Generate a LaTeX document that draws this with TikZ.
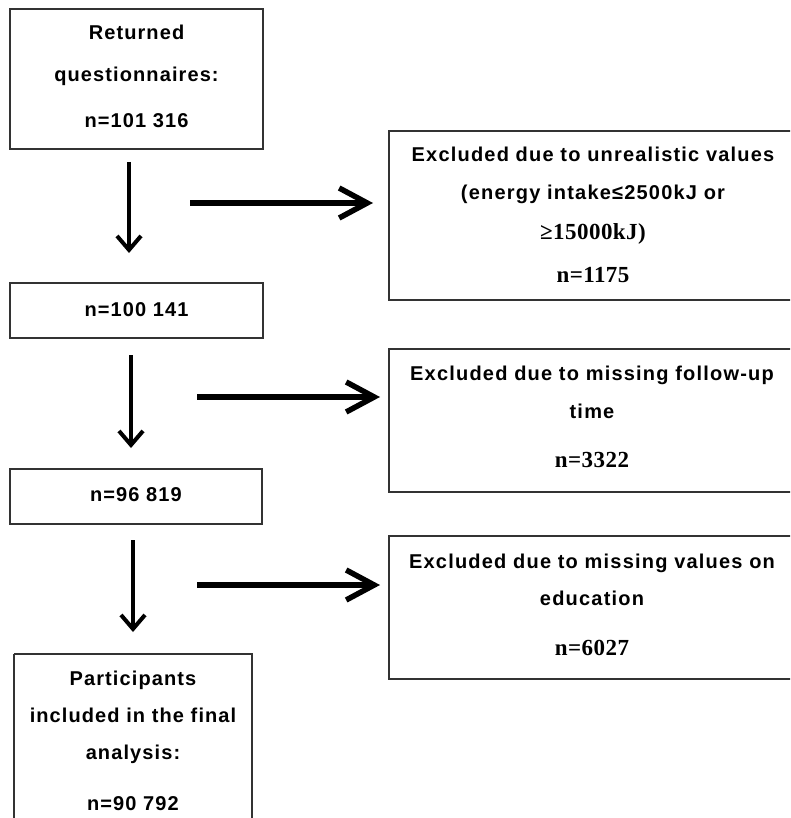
\documentclass[tikz,border=0pt]{standalone}
\usepackage{fontspec}
\usetikzlibrary{arrows.meta}
\newfontfamily\lsans{Liberation Sans}[LetterSpace=5.5]
\newfontfamily\rsans{Liberation Sans}[LetterSpace=6.0]
\newfontfamily\rserif{Liberation Serif}[LetterSpace=2.0]
\tikzset{
  box/.style={draw=black!80, line width=1.4pt},
  ltxt/.style={anchor=base, inner sep=0pt, font=\lsans\bfseries\fontsize{20}{20}\selectfont},
  rtxt/.style={anchor=base, inner sep=0pt, font=\rsans\bfseries\fontsize{20}{20}\selectfont},
  stxt/.style={anchor=base, inner sep=0pt, font=\rserif\bfseries\fontsize{23}{23}\selectfont},
  varrow/.style={line width=3.5pt, -{Straight Barb[length=14pt,width=24pt,line width=4pt]}},
  harrow/.style={line width=5.5pt, -{Straight Barb[length=28pt,width=30pt,line width=5.5pt]}},
}
\begin{document}
\begin{tikzpicture}[x=1pt,y=-1pt]
\clip (0,0) rectangle (790,818);
\fill[white] (0,0) rectangle (790,818);
% boxes
\draw[box] (10,9) rectangle (263,149);
\draw[box] (389,131) rectangle (800,300);
\draw[box] (10,283) rectangle (263,338);
\draw[box] (389,349) rectangle (800,492);
\draw[box] (10,469) rectangle (262,524);
\draw[box] (389,536) rectangle (800,679);
\draw[box] (14,654) -- (14,830);
\draw[box] (14,654) -- (252,654) -- (252,830);
% texts
\node[ltxt] (t1a) at (136.5,40) {Returned};
\node[ltxt] (t1b) at (136.5,82) {questionnaires:};
\node[ltxt] (t1c) at (136.5,128) {n=101 316};
\node[ltxt] (t3) at (136.5,316) {n=100 141};
\node[ltxt] (t5) at (136,501) {n=96 819};
\node[ltxt] (t7a) at (133,685) {Participants};
\node[ltxt] (t7b) at (133,722) {included in the final};
\node[ltxt] (t7c) at (133,759) {analysis:};
\node[ltxt] (t7d) at (133,810) {n=90 792};
\node[rtxt] (t2a) at (593,162) {Excluded due to unrealistic values};
\node[rtxt] (t2b) at (593,200) {(energy intake≤2500kJ or};
\node[stxt] (t2c) at (593,240) {≥15000kJ)};
\node[stxt] (t2d) at (593,282) {n=1175};
\node[rtxt] (t4a) at (592,380) {Excluded due to missing follow-up};
\node[rtxt] (t4b) at (592,418) {time};
\node[stxt] (t4c) at (592,467) {n=3322};
\node[rtxt] (t6a) at (592,568) {Excluded due to missing values on};
\node[rtxt] (t6b) at (592,605) {education};
\node[stxt] (t6c) at (592,655) {n=6027};
% arrows
\coordinate (v1s) at (129,162); \coordinate (v1e) at (129,253);
\coordinate (h1s) at (190,203); \coordinate (h1e) at (373,203);
\coordinate (v2s) at (131,355); \coordinate (v2e) at (131,448);
\coordinate (h2s) at (197,397); \coordinate (h2e) at (380,397);
\coordinate (v3s) at (133,540); \coordinate (v3e) at (133,632);
\coordinate (h3s) at (197,585); \coordinate (h3e) at (380,585);
\draw[varrow] (v1s) -- (v1e);
\draw[harrow] (h1s) -- (h1e);
\draw[varrow] (v2s) -- (v2e);
\draw[harrow] (h2s) -- (h2e);
\draw[varrow] (v3s) -- (v3e);
\draw[harrow] (h3s) -- (h3e);
\end{tikzpicture}
\end{document}
